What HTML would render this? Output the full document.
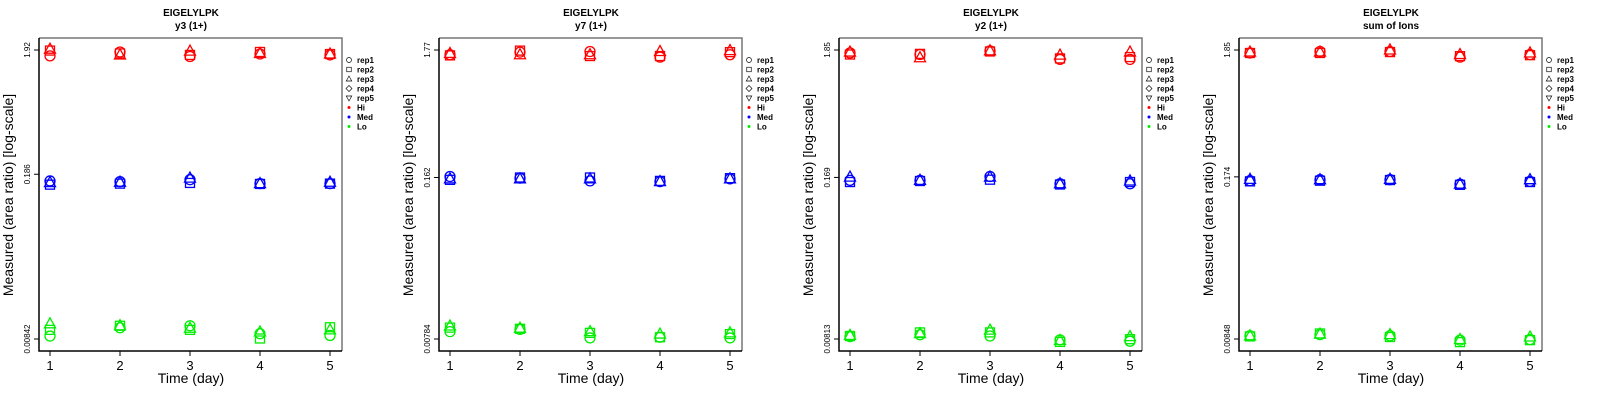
<!DOCTYPE html>
<html><head><meta charset="utf-8"><style>
body{margin:0;background:#fff;width:1600px;height:400px;overflow:hidden}
svg{display:block;font-family:"Liberation Sans",sans-serif}
</style></head><body>
<svg id="c" width="1600" height="400"></svg>
<script>
const panelTitles=["y3 (1+)","y7 (1+)","y2 (1+)","sum of Ions"];
const days=[1,2,3,4,5];
const yTicks=[[1.92,0.186,0.00842],[1.77,0.162,0.00784],[1.85,0.169,0.00813],[1.85,0.174,0.00848]];
const hiP1=[[1.72,1.85,1.70,1.78,1.75],[1.90,1.80,1.75,1.85,1.78],[1.95,1.75,1.88,1.80,1.78]];
const medP1=[[0.164,0.162,0.168,0.156,0.156],[0.153,0.156,0.158,0.155,0.156],[0.159,0.160,0.173,0.156,0.160]];
const loP1=[[0.0089,0.0104,0.0108,0.0093,0.0090],[0.0100,0.0108,0.0100,0.0085,0.0105],[0.0112,0.0108,0.0103,0.0096,0.0100]];
const hiP2=[[1.62,1.70,1.72,1.55,1.62],[1.60,1.75,1.58,1.58,1.70],[1.66,1.62,1.62,1.72,1.75]];
const medP2=[[0.165,0.160,0.152,0.150,0.158],[0.155,0.162,0.162,0.152,0.160],[0.158,0.158,0.158,0.150,0.158]];
const loP2=[[0.0090,0.0094,0.0080,0.0081,0.0080],[0.0097,0.0095,0.0088,0.0081,0.0086],[0.0100,0.0096,0.0090,0.0086,0.0088]];
const hiP3=[[1.75,1.70,1.82,1.55,1.55],[1.70,1.72,1.80,1.58,1.62],[1.78,1.60,1.82,1.68,1.78]];
const medP3=[[0.160,0.160,0.172,0.150,0.150],[0.155,0.158,0.162,0.148,0.155],[0.170,0.160,0.170,0.150,0.158]];
const loP3=[[0.0085,0.0088,0.0086,0.0080,0.0078],[0.0086,0.0092,0.0092,0.0077,0.0081],[0.0087,0.0090,0.0096,0.0079,0.0085]];
const hiP4=[[1.75,1.80,1.80,1.62,1.70],[1.75,1.75,1.78,1.65,1.68],[1.78,1.78,1.85,1.70,1.75]];
const medP4=[[0.162,0.165,0.165,0.152,0.160],[0.160,0.162,0.164,0.150,0.158],[0.166,0.165,0.166,0.152,0.165]];
const loP4=[[0.0090,0.0092,0.0090,0.0083,0.0084],[0.0089,0.0094,0.0088,0.0080,0.0083],[0.0090,0.0093,0.0092,0.0084,0.0088]];
const legendLabels=["rep1","rep2","rep3","rep4","rep5","Hi","Med","Lo"];
const panels=[[hiP1,medP1,loP1],[hiP2,medP2,loP2],[hiP3,medP3,loP3],[hiP4,medP4,loP4]];
const colors=["#ff0000","#0000ff","#00ee00"];
const levelNames=["hi","med","lo"];
const NS="http://www.w3.org/2000/svg";
const svg=document.getElementById('c');
function mk(tag,attrs,parent){const e=document.createElementNS(NS,tag);for(const k in attrs)e.setAttribute(k,attrs[k]);parent.appendChild(e);return e;}
function marker(shape,x,y,col,parent){
  let e;
  if(shape===0)e=mk('circle',{cx:x,cy:y,r:5},parent);
  else if(shape===1)e=mk('rect',{x:x-4.5,y:y-4.5,width:9,height:9},parent);
  else if(shape===2)e=mk('polygon',{points:`${x},${y-6} ${x-5.5},${y+4} ${x+5.5},${y+4}`},parent);
  else if(shape===3)e=mk('polygon',{points:`${x},${y-6} ${x+6},${y} ${x},${y+6} ${x-6},${y}`},parent);
  else e=mk('polygon',{points:`${x},${y+6} ${x-5.5},${y-4} ${x+5.5},${y-4}`},parent);
  e.setAttribute('fill','none');e.setAttribute('stroke',col);e.setAttribute('stroke-width','1.3');
  return e;
}
panels.forEach((pd,p)=>{
  const g=mk('g',{transform:`translate(${p*400},0)`},svg);
  
  
  const tk=yTicks[p];
  const lt=Math.log10(tk[0]),lb=Math.log10(tk[2]);
  const yS=v=>50+(lt-Math.log10(v))/(lt-lb)*289;
  const xS=d=>50+(d-1)*70;
  let t=mk('text',{x:191,y:16,'text-anchor':'middle','font-size':10,'font-weight':'bold'},g);t.textContent='EIGELYLPK';
  
  t=mk('text',{x:191,y:29,'text-anchor':'middle','font-size':10,'font-weight':'bold'},g);t.textContent=panelTitles[p];
  
  const fr=mk('path',{d:'M39,38 H342 V351',fill:'none',stroke:'#777','stroke-width':1.5},g);
  
  const ax=mk('path',{d:'M39,38 V351 H342',fill:'none',stroke:'#000','stroke-width':1.5},g);
  
  days.forEach(d=>{
    mk('line',{x1:xS(d),x2:xS(d),y1:351,y2:356,stroke:'#000'},g);
    const l=mk('text',{x:xS(d),y:370,'text-anchor':'middle','font-size':13},g);l.textContent=d;
    
  });
  tk.forEach(v=>{
    const y=yS(v);
    mk('line',{x1:34,x2:39,y1:y,y2:y,stroke:'#000'},g);
    const l=mk('text',{x:0,y:0,'text-anchor':'middle','font-size':8,transform:`translate(30,${y}) rotate(-90)`},g);l.textContent=v;
    
  });
  t=mk('text',{x:191,y:383,'text-anchor':'middle','font-size':14},g);t.textContent='Time (day)';
  
  t=mk('text',{x:0,y:0,'text-anchor':'middle','font-size':14,transform:'translate(13,195) rotate(-90)'},g);t.textContent='Measured (area ratio) [log-scale]';
  
  pd.forEach((lvl,li)=>{
    lvl.forEach((rep,ri)=>{
      rep.forEach((v,di)=>{
        const m=marker(ri,xS(days[di]),yS(v),colors[li],g);
        
        
      });
    });
  });
  const lg=mk('g',{},g);
  
  legendLabels.forEach((lab,i)=>{
    const y=60+i*9.5;
    if(i<5){const m=marker(i,349,y,'#000',lg);m.setAttribute('transform',`translate(349,${y}) scale(0.5) translate(-349,${-y})`);}
    else mk('circle',{cx:349,cy:y,r:1.5,fill:colors[i-5]},lg);
    const l=mk('text',{x:357,y:y+3,'font-size':8,'font-weight':'bold'},lg);l.textContent=lab;
    
  });
});
</script>
</body></html>
